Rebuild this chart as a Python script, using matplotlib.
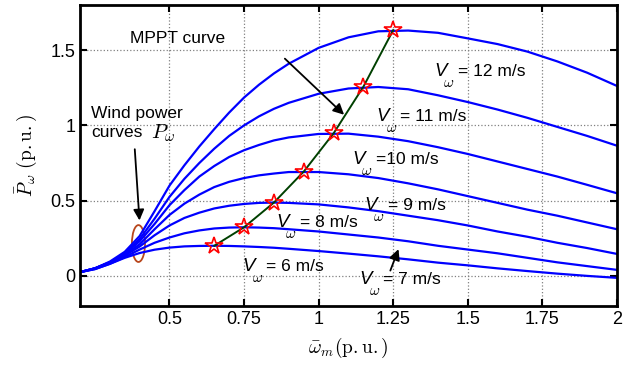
import matplotlib
matplotlib.use("Agg")
from matplotlib import pyplot as plt
from matplotlib.patches import Ellipse

plt.rcParams['font.family'] = ['Liberation Sans', 'DejaVu Sans']
plt.rcParams['mathtext.fontset'] = 'cm'

# rotor speed grid (p.u.)
w = [0.2, 0.25, 0.3, 0.35, 0.4, 0.45, 0.5, 0.55, 0.6, 0.65, 0.7, 0.75, 0.8, 0.85, 0.9,
     1.0, 1.1, 1.2, 1.3, 1.4, 1.5, 1.6, 1.7, 1.8, 1.9, 2.0]

# wind power curves (p.u.)
p6 = [0.025, 0.045, 0.08, 0.12, 0.152, 0.174, 0.188, 0.196, 0.199, 0.2, 0.199, 0.196, 0.192,
      0.187, 0.18, 0.165, 0.148, 0.13, 0.11, 0.088, 0.07, 0.05, 0.032, 0.015, 0.0, -0.013]
p7 = [0.025, 0.045, 0.08, 0.125, 0.175, 0.22, 0.255, 0.283, 0.302, 0.315, 0.321, 0.323, 0.321,
      0.317, 0.31, 0.295, 0.275, 0.255, 0.23, 0.2, 0.175, 0.15, 0.12, 0.09, 0.065, 0.04]
p8 = [0.025, 0.05, 0.085, 0.135, 0.195, 0.27, 0.335, 0.385, 0.42, 0.448, 0.466, 0.478, 0.485,
      0.487, 0.485, 0.475, 0.455, 0.43, 0.4, 0.37, 0.335, 0.295, 0.26, 0.22, 0.185, 0.146]
p9 = [0.025, 0.05, 0.09, 0.14, 0.21, 0.31, 0.405, 0.48, 0.54, 0.59, 0.625, 0.65, 0.668,
      0.68, 0.69, 0.69, 0.675, 0.65, 0.615, 0.575, 0.53, 0.485, 0.44, 0.4, 0.355, 0.31]
p10 = [0.025, 0.05, 0.09, 0.145, 0.23, 0.345, 0.47, 0.57, 0.66, 0.73, 0.79, 0.835, 0.87,
       0.9, 0.92, 0.943, 0.945, 0.925, 0.895, 0.855, 0.81, 0.76, 0.71, 0.66, 0.605, 0.549]
p11 = [0.025, 0.05, 0.09, 0.15, 0.245, 0.38, 0.525, 0.645, 0.75, 0.845, 0.93, 1.0, 1.06,
       1.11, 1.15, 1.21, 1.245, 1.255, 1.24, 1.2, 1.155, 1.105, 1.05, 0.99, 0.93, 0.865]
p12 = [0.025, 0.05, 0.095, 0.16, 0.265, 0.43, 0.6, 0.735, 0.86, 0.975, 1.085, 1.185, 1.27,
       1.345, 1.41, 1.515, 1.585, 1.625, 1.63, 1.615, 1.578, 1.54, 1.49, 1.425, 1.35, 1.262]
curves = [p6, p7, p8, p9, p10, p11, p12]

# MPPT points (one per wind speed 6..12 m/s)
mppt_w = [0.65, 0.75, 0.85, 0.95, 1.05, 1.15, 1.25]
mppt_p = [0.2, 0.323, 0.487, 0.693, 0.947, 1.257, 1.633]

fig = plt.figure(figsize=(6.38, 3.68), dpi=100)
ax = fig.add_axes([0.1254, 0.1685, 0.8416, 0.818])

for p in curves:
    ax.plot(w, p, color="#0000ff", linewidth=1.6)

ax.plot(mppt_w, mppt_p, color="#004000", linewidth=1.4)
ax.plot(mppt_w, mppt_p, linestyle="none", marker="*", markersize=13,
        markerfacecolor="none", markeredgecolor="#ff0000", markeredgewidth=1.2)

ax.add_patch(Ellipse((0.396, 0.215), 0.044, 0.245, fill=False,
                     edgecolor="#b8461c", linewidth=1.3))

ax.set_xlim(0.2, 2)
ax.set_ylim(-0.2, 1.8)
ax.set_xticks([0.5, 0.75, 1, 1.25, 1.5, 1.75, 2])
ax.set_xticklabels(["0.5", "0.75", "1", "1.25", "1.5", "1.75", "2"])
ax.set_yticks([0, 0.5, 1, 1.5])
ax.set_yticklabels(["0", "0.5", "1", "1.5"])
ax.tick_params(direction="in", top=True, right=True, labelsize=13, length=5, width=1.5)
ax.grid(True, linestyle=":", color="#808080", linewidth=0.9)
for s in ax.spines.values():
    s.set_linewidth(2)

ax.set_xlabel(r"$\bar{\omega}_m(\mathrm{p.u.})$", fontsize=14, labelpad=6)
ax.set_ylabel(r"$\bar{P}_{\omega}\ (\mathrm{p.u.})$", fontsize=14, labelpad=8)

fs = 12.5
ax.text(0.366, 1.58, "MPPT curve", fontsize=fs, va="center")
ax.annotate("", xy=(1.092, 1.058), xytext=(0.88, 1.456),
            arrowprops=dict(arrowstyle="-|>", color="black", lw=1.3, mutation_scale=16))
ax.text(0.238, 1.08, "Wind power", fontsize=fs, va="center")
ax.text(0.238, 0.95, "curves", fontsize=fs, va="center")
ax.annotate(r"$P_{\omega}$", xy=(0.238, 0.95), xytext=(43, 0), textcoords="offset points",
            fontsize=15, va="center")
ax.annotate("", xy=(0.4, 0.35), xytext=(0.383, 0.86),
            arrowprops=dict(arrowstyle="-|>", color="black", lw=1.3, mutation_scale=16))

labels = [(1.388, 1.355, "= 12 m/s"),
          (1.194, 1.056, "= 11 m/s"),
          (1.113, 0.77, "=10 m/s"),
          (1.153, 0.465, "= 9 m/s"),
          (0.858, 0.352, "= 8 m/s"),
          (0.745, 0.06, "= 6 m/s"),
          (1.137, -0.027, "= 7 m/s")]
for x, y, t in labels:
    ax.text(x, y, "V", fontsize=fs + 1, style="italic", va="center")
    ax.annotate(r"$\omega$", xy=(x, y), xytext=(6.5, -8), textcoords="offset points",
                fontsize=11, va="center")
    ax.annotate(t, xy=(x, y), xytext=(17, 0), textcoords="offset points",
                fontsize=fs, va="center")
ax.annotate("", xy=(1.271, 0.195), xytext=(1.237, 0.018),
            arrowprops=dict(arrowstyle="-|>", color="black", lw=1.3, mutation_scale=16))

fig.savefig("out.png", dpi=100)
